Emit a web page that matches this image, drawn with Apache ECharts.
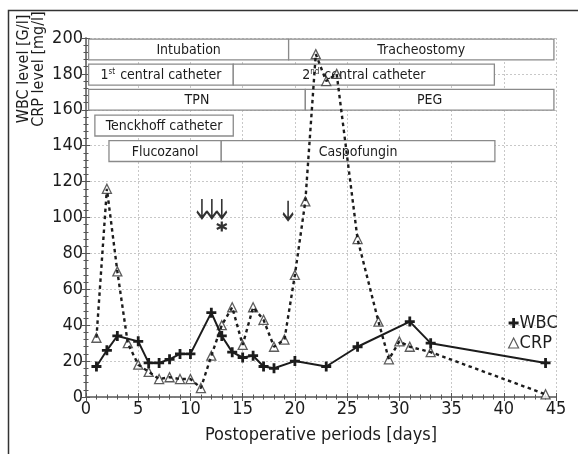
<!DOCTYPE html>
<html>
<head>
<meta charset="utf-8">
<script src="https://cdn.jsdelivr.net/npm/echarts@6/dist/echarts.min.js"></script>
<style>
html,body{margin:0;padding:0;background:#fff;}
#chart{width:578px;height:454px;}
</style>
</head>
<body>
<div id="chart"></div>
<script>
// ---- data ----
const wbcDays   = [1, 2, 3, 5, 6, 7, 8, 9, 10, 12, 13, 14, 15, 16, 17, 18, 20, 23, 26, 31, 33, 44];
const wbcValues = [17, 26, 34, 31, 19, 19, 21, 24, 24, 47, 34, 25, 22, 23, 17, 16, 20, 17, 28, 42, 30, 19];
const crpDays   = [1, 2, 3, 4, 5, 6, 7, 8, 9, 10, 11, 12, 13, 14, 15, 16, 17, 18, 19, 20, 21, 22, 23, 24, 26, 28, 29, 30, 31, 33, 44];
const crpValues = [33, 116, 70, 30, 18, 14, 10, 11, 10, 10, 5, 23, 40, 50, 29, 50, 43, 28, 32, 68, 109, 191, 176, 180, 88, 42, 21, 31, 28, 25, 1.5];

const periodLabels = ['Intubation', 'Tracheostomy', '1{sup|st} central catheter', '2{sup|nd} central catheter',
                      'TPN', 'PEG', 'Tenckhoff catheter', 'Flucozanol', 'Caspofungin'];
const periodStart  = [0.25, 19.4, 0.25, 14.1, 0.25, 21.0, 0.85, 2.2, 12.95];
const periodEnd    = [19.4, 44.8, 14.1, 39.1, 21.0, 44.8, 14.1, 12.95, 39.15];
const periodRow    = [0, 0, 1, 1, 2, 2, 3, 4, 4];

const arrowDays    = [11.1, 12.05, 13.0, 19.35];
const arrowLevels  = [105, 105, 105, 104];
const starDays     = [13.0];
const starLevels   = [95];

const xTicks = [0, 5, 10, 15, 20, 25, 30, 35, 40, 45];
const yTicks = [0, 20, 40, 60, 80, 100, 120, 140, 160, 180, 200];

// ---- layout / style ----
const FONT = "'Liberation Sans Narrow', 'DejaVu Sans Condensed', sans-serif";
const INK = '#1c1c1c';
const rowTop = [199.4, 185.4, 171.4, 157.0, 142.8];
const rowHeight = 11.6;

const plusPath = 'path://M3.6,0H6.4V3.6H10V6.4H6.4V10H3.6V6.4H0V3.6H3.6Z';
const arrowPath = 'path://M5,0V20M0.5,13L5,20L9.5,13';
const starPath = 'path://M5,0V10M0.7,2.5L9.3,7.5M0.7,7.5L9.3,2.5';

const zip = (a, b) => a.map((v, i) => [v, b[i]]);
const boxData = periodLabels.map((lab, i) => ({
  value: [periodStart[i], periodEnd[i], rowTop[periodRow[i]], rowTop[periodRow[i]] - rowHeight],
  name: lab
}));

const chart = echarts.init(document.getElementById('chart'));

const axisCommon = {
  type: 'value',
  axisLine: { show: true, lineStyle: { color: '#777', width: 1.5 } },
  axisTick: { show: true, inside: true, length: 4, lineStyle: { color: '#555', width: 1 } },
  minorTick: { show: true, splitNumber: 5, length: 2.5, lineStyle: { color: '#555', width: 1 } },
};

const option = {
  backgroundColor: '#fff',
  animation: false,
  grid: { left: 86, right: 22, top: 38, bottom: 57, containLabel: false },
  graphic: [
    { type: 'polyline', shape: { points: [[8.5, 454], [8.5, 10.5], [578, 10.5]] },
      style: { stroke: '#333', lineWidth: 1.5, fill: null }, silent: true },
    { type: 'text', x: 31, y: 69, rotation: Math.PI / 2,
      style: { text: 'WBC level [G/l]\nCRP level [mg/l]', fontFamily: FONT, fontSize: 16,
               lineHeight: 15, fill: INK, align: 'center', verticalAlign: 'middle' } }
  ],
  legend: {
    orient: 'vertical', left: 508, top: 314, padding: 0, itemGap: 2,
    itemWidth: 10, itemHeight: 10, itemStyle: { borderWidth: 0 },
    textStyle: { fontFamily: FONT, fontSize: 18, color: INK, lineHeight: 16, padding: [0, 0, 0, -4] },
    data: [
      { name: 'WBC', icon: plusPath, itemStyle: { color: INK } },
      { name: 'CRP', icon: 'triangle', itemStyle: { color: '#fff', borderColor: '#333', borderWidth: 1.2 } }
    ]
  },
  xAxis: [
    Object.assign({}, axisCommon, {
      min: 0, max: 45, interval: 5, position: 'bottom',
      name: 'Postoperative periods [days]', nameLocation: 'middle', nameGap: 29,
      nameTextStyle: { fontFamily: FONT, fontSize: 18, color: INK },
      axisLabel: { fontFamily: FONT, fontSize: 18, color: INK, margin: 3,
                   formatter: v => xTicks.includes(v) ? String(v) : '' },
      splitLine: { show: true, lineStyle: { color: '#c8c8c8', type: [2, 2], width: 1 } }
    }),
    Object.assign({}, axisCommon, {
      min: 0, max: 45, interval: 5, position: 'top',
      axisLabel: { show: false }, splitLine: { show: false }
    })
  ],
  yAxis: [
    Object.assign({}, axisCommon, {
      min: 0, max: 200, interval: 20, position: 'left',
      axisLabel: { fontFamily: FONT, fontSize: 18, color: INK, margin: 3,
                   formatter: v => yTicks.includes(v) ? String(v) : '' },
      splitLine: { show: true, lineStyle: { color: '#c8c8c8', type: [2, 2], width: 1 } }
    }),
    Object.assign({}, axisCommon, {
      min: 0, max: 200, interval: 20, position: 'right',
      axisLabel: { show: false }, splitLine: { show: false }
    })
  ],
  series: [
    {
      type: 'custom', name: 'periods', z: 1, silent: true,
      data: boxData,
      encode: { x: [0, 1], y: [2, 3] },
      renderItem: function (params, api) {
        const p1 = api.coord([api.value(0), api.value(2)]);
        const p2 = api.coord([api.value(1), api.value(3)]);
        const label = boxData[params.dataIndex].name;
        return {
          type: 'group',
          children: [
            { type: 'rect', shape: { x: p1[0], y: p1[1], width: p2[0] - p1[0], height: p2[1] - p1[1] },
              style: { fill: '#fff', stroke: '#8a8a8a', lineWidth: 1.3 } },
            { type: 'text', x: (p1[0] + p2[0]) / 2, y: (p1[1] + p2[1]) / 2 + 1,
              style: { text: label, fontFamily: FONT, fontSize: 14, fill: INK,
                       align: 'center', verticalAlign: 'middle',
                       rich: { sup: { fontFamily: FONT, fontSize: 8, fill: INK, verticalAlign: 'top', padding: [0, 1, 7, 0] } } } }
          ]
        };
      }
    },
    {
      type: 'line', name: 'WBC', z: 4,
      data: zip(wbcDays, wbcValues),
      symbol: plusPath, symbolSize: 10,
      itemStyle: { color: INK },
      lineStyle: { color: INK, width: 2 }
    },
    {
      type: 'scatter', name: 'CRP', z: 2,
      data: zip(crpDays, crpValues),
      symbol: 'triangle', symbolSize: 9,
      itemStyle: { color: '#fff', borderColor: '#333', borderWidth: 1.3 }
    },
    {
      type: 'line', name: 'CRP trend', z: 3,
      data: zip(crpDays, crpValues),
      symbol: 'none',
      lineStyle: { color: INK, width: 2.4, type: [3.5, 3.5] }
    },
    {
      type: 'scatter', name: 'arrows', z: 5, silent: true,
      data: zip(arrowDays, arrowLevels),
      symbol: arrowPath, symbolSize: [10, 19],
      itemStyle: { color: 'none', borderColor: '#000', borderWidth: 2.2 }
    },
    {
      type: 'scatter', name: 'star', z: 5, silent: true,
      data: zip(starDays, starLevels),
      symbol: starPath, symbolSize: [10, 10],
      itemStyle: { color: 'none', borderColor: '#000', borderWidth: 2.2 }
    }
  ]
};
chart.setOption(option);
</script>
</body>
</html>
